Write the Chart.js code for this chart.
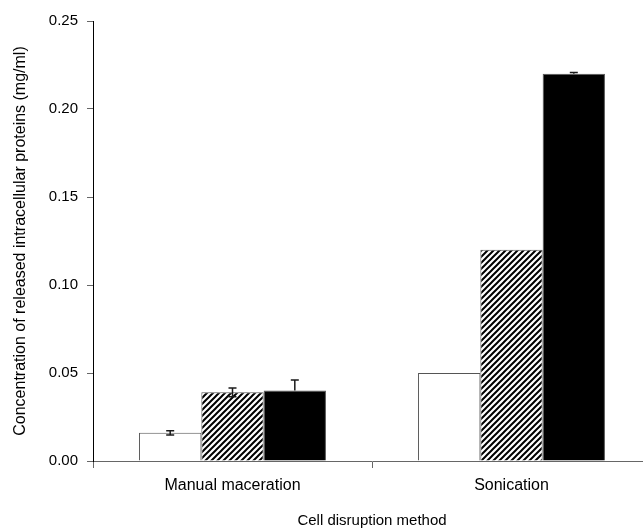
<!DOCTYPE html>
<html>
<head>
<meta charset="utf-8">
<script src="https://cdn.jsdelivr.net/npm/chart.js@4/dist/chart.umd.min.js"></script>
<style>
  html, body { margin: 0; padding: 0; background: #fff; overflow: hidden; }
</style>
</head>
<body>
<canvas id="grafico" width="660" height="530"></canvas>
<script>
const categorias = ['Manual maceration', 'Sonication'];
const serieBlanca = [0.016, 0.050];
const serieRayada = [0.039, 0.120];
const serieNegra = [0.040, 0.220];
const errorBlanca = [0.0012, 0];
const errorRayada = [0.0025, 0];
const errorNegra = [0.006, 0.0007];
const ticksY = [0, 0.05, 0.10, 0.15, 0.20, 0.25];

const fuente = "'Liberation Sans', Arial, sans-serif";

// patron de rayas diagonales para la segunda serie
function crearRayado() {
  const c = document.createElement('canvas');
  c.width = 6;
  c.height = 6;
  const g = c.getContext('2d');
  g.fillStyle = '#fff';
  g.fillRect(0, 0, 6, 6);
  g.strokeStyle = '#000';
  g.lineWidth = 2;
  g.beginPath();
  g.moveTo(-1, 7); g.lineTo(7, -1);
  g.moveTo(-4, 4); g.lineTo(4, -4);
  g.moveTo(2, 10); g.lineTo(10, 2);
  g.stroke();
  return g.createPattern(c, 'repeat');
}

const ctx = document.getElementById('grafico').getContext('2d');

const barrasError = {
  id: 'barrasError',
  afterDatasetsDraw(chart) {
    const c = chart.ctx;
    const y = chart.scales.y;
    c.save();
    c.strokeStyle = '#1a1a1a';
    c.lineWidth = 1.5;
    chart.data.datasets.forEach((ds, i) => {
      const meta = chart.getDatasetMeta(i);
      meta.data.forEach((barra, j) => {
        const e = ds.errores[j];
        if (!e) return;
        const v = ds.data[j];
        const arriba = y.getPixelForValue(v + e);
        const abajo = y.getPixelForValue(v - e);
        // en la barra negra la parte de abajo no se ve
        const oculta = ds.backgroundColor === '#000';
        c.beginPath();
        c.moveTo(barra.x, arriba); c.lineTo(barra.x, oculta ? barra.y : abajo);
        c.moveTo(barra.x - 4, arriba); c.lineTo(barra.x + 4, arriba);
        if (!oculta) {
          c.moveTo(barra.x - 4, abajo); c.lineTo(barra.x + 4, abajo);
        }
        c.stroke();
      });
    });
    c.restore();
  }
};

new Chart(ctx, {
  type: 'bar',
  data: {
    labels: categorias,
    datasets: [
      { data: serieBlanca, errores: errorBlanca, backgroundColor: '#fff' },
      { data: serieRayada, errores: errorRayada, backgroundColor: crearRayado() },
      { data: serieNegra, errores: errorNegra, backgroundColor: '#000' }
    ].map(d => Object.assign(d, {
      borderColor: '#555',
      borderWidth: 1,
      categoryPercentage: 0.67,
      barPercentage: 1.0
    }))
  },
  options: {
    responsive: false,
    animation: false,
    layout: { padding: { top: 21, right: 9, left: 0, bottom: 0 } },
    plugins: { legend: { display: false }, tooltip: { enabled: false } },
    scales: {
      x: {
        afterFit: s => { s.height = 69; },
        grid: { drawOnChartArea: false, offset: true, tickLength: 7, color: '#666' },
        border: { color: '#666' },
        ticks: { color: '#000', padding: 8, font: { family: fuente, size: 16 } },
        title: {
          display: true,
          text: 'Cell disruption method',
          color: '#000',
          padding: { top: 0, bottom: 0 },
          font: { family: fuente, size: 15 }
        }
      },
      y: {
        min: 0,
        max: 0.25,
        afterFit: s => { s.width = 93; },
        afterBuildTicks: s => { s.ticks = ticksY.map(v => ({ value: v })); },
        grid: { drawOnChartArea: false, tickLength: 6, color: '#666' },
        border: { color: '#000' },
        ticks: {
          color: '#000',
          padding: 9,
          font: { family: fuente, size: 15 },
          callback: v => v.toFixed(2)
        },
        title: {
          display: true,
          text: 'Concentration of released intracellular proteins (mg/ml)',
          color: '#000',
          padding: { top: 11, bottom: 0 },
          font: { family: fuente, size: 16 }
        }
      }
    }
  },
  plugins: [barrasError]
});
</script>
</body>
</html>
